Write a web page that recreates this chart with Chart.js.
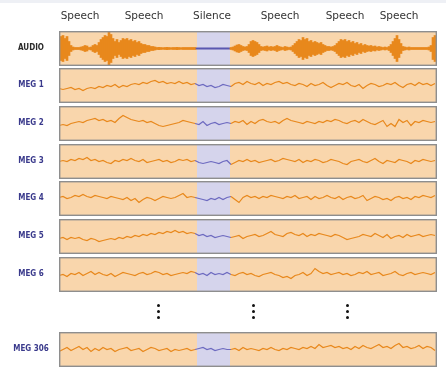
<!DOCTYPE html>
<html lang="en">

<head>
    <meta charset="UTF-8">
    <title>Audio and MEG traces</title>
    <style>
        body {
            margin: 0;
            background: #ffffff;
            width: 446px;
            height: 372px;
            position: relative;
            overflow: hidden;
            font-family: 'DejaVu Sans', sans-serif;
        }

        .topband {
            position: absolute;
            left: 0;
            top: 0;
            width: 446px;
            height: 3px;
            background: #eef0f5;
        }

        canvas {
            position: absolute;
            left: 59px;
        }

        .row-label {
            position: absolute;
            left: 0;
            width: 62px;
            text-align: center;
            font-family: 'DejaVu Sans Condensed', 'DejaVu Sans', sans-serif;
            font-stretch: condensed;
            font-weight: bold;
            font-size: 8px;
            line-height: 10px;
            color: #3a3a8c;
        }

        .row-label.audio {
            color: #2a2a2a;
        }

        .vdots {
            position: absolute;
            top: 304px;
            width: 3px;
        }

        .vdots span {
            display: block;
            width: 3px;
            height: 3px;
            border-radius: 50%;
            background: #111;
            margin-bottom: 3px;
        }
    </style>
    <script src="https://cdn.jsdelivr.net/npm/chart.js"></script>
</head>

<body>
    <div class="topband"></div>

    <canvas id="audio" width="378" height="62" style="top:4px"></canvas>
    <canvas id="meg1" width="378" height="35" style="top:68px"></canvas>
    <canvas id="meg2" width="378" height="35" style="top:106px"></canvas>
    <canvas id="meg3" width="378" height="35" style="top:144px"></canvas>
    <canvas id="meg4" width="378" height="35" style="top:181px"></canvas>
    <canvas id="meg5" width="378" height="35" style="top:219px"></canvas>
    <canvas id="meg6" width="378" height="35" style="top:257px"></canvas>
    <canvas id="meg306" width="378" height="35" style="top:332px"></canvas>

    <div class="row-label audio" style="top:43px">AUDIO</div>
    <div class="row-label" style="top:80px">MEG 1</div>
    <div class="row-label" style="top:118px">MEG 2</div>
    <div class="row-label" style="top:156px">MEG 3</div>
    <div class="row-label" style="top:193px">MEG 4</div>
    <div class="row-label" style="top:231px">MEG 5</div>
    <div class="row-label" style="top:269px">MEG 6</div>
    <div class="row-label" style="top:344px">MEG 306</div>

    <div class="vdots" style="left:157px"><span></span><span></span><span></span></div>
    <div class="vdots" style="left:252px"><span></span><span></span><span></span></div>
    <div class="vdots" style="left:346px"><span></span><span></span><span></span></div>

    <script>
        // time axis in ms
        const duration = 3780;
        const silenceStart = 1380;
        const silenceEnd = 1710;
        const audioStep = 20;
        const megStep = 40;

        const segmentLabels = ['Speech', 'Speech', 'Silence', 'Speech', 'Speech', 'Speech'];
        const segmentCenters = [210, 850, 1530, 2210, 2860, 3400];

        // audio envelope (half amplitude)
        const audioAmp = [
            8, 12, 13, 10, 12, 7, 3, 1.5, 1, 1,
            1, 1.5, 2, 3, 2.5, 1, 1.5, 3, 4, 3,
            6, 9, 11, 13, 12, 17, 14, 10, 7, 9,
            6, 8, 10, 9, 10, 8, 9, 7, 8, 6,
            7, 5, 4, 4, 3, 3, 2, 2, 1.5, 1,
            1.2, 1, 0.8, 1, 1.2, 1, 0.8, 1, 1, 1.2,
            1, 0.8, 1, 1, 1, 1, 1, 1, 1, 0.6,
            0.6, 0.6, 0.6, 0.6, 0.6, 0.6, 0.6, 0.6, 0.6, 0.6,
            0.6, 0.6, 0.6, 0.6, 0.6, 0.6, 1, 1.5, 2.5, 3.5,
            4, 3, 2, 1.5, 2, 4, 7, 8, 7, 6,
            4, 2, 1.5, 2, 2.5, 1.5, 2, 1.5, 2, 3,
            2, 1.5, 1, 2, 1.5, 1, 1.5, 3, 5, 7,
            9, 8, 11, 9, 10, 7, 8, 6, 7, 6,
            5, 6, 4, 3, 2, 2, 1.5, 2, 3, 5,
            7, 9, 8, 9, 7, 8, 6, 7, 5, 6,
            4, 5, 3, 4, 3, 2.5, 3, 2, 2.5, 1.5,
            2, 1.5, 1, 1.5, 1, 2, 4, 7, 10, 13,
            9, 5, 2, 1.5, 1, 1.5, 1, 1, 1, 1,
            1, 1, 1, 1, 1, 1.5, 3, 11, 13
        ];

        const meg1 = [
            -3, -4, -3, -2, -4, -3, -5, -3, -2, -3,
            -1, -2, 0, -1, 1, -2, 0, -1, 1, 2,
            1, 3, 2, 4, 5, 3, 4, 2, 3, 2,
            4, 2, 3, 1, 2,
            0, 1, -1, 0, -2, -1, 1, 0,
            -1, 2, 3, 1, 4, 2, 1, 3, 0, 2,
            1, 3, 4, 2, 3, 1, 0, 2, 1, -1,
            2, 0, 1, 3, 0, -2, 0, 2, 1, 3,
            0, -1, 1, -3, 0, 2, 1, -1, 0, 2,
            1, 3, 0, -2, 1, 2, 0, 3, 1, 2, 0, 2
        ];
        const meg2 = [
            -2, -1, -2, 0, 1, 2, 1, 3, 4, 5,
            3, 4, 2, 3, 1, 5, 8, 6, 4, 3,
            2, 3, 1, 2, 0, -2, -3, -2, -1, 0,
            1, 3, 2, 1, 0,
            -1, 2, -2, 0, 1, -1, 0, 1,
            0, 2, 1, 3, -1, 2, 0, 3, 4, 2,
            1, 2, 0, 3, 5, 3, 2, 1, 0, 2,
            1, 0, 2, 1, 3, 2, 4, 3, 1, 0,
            2, 3, 1, 4, 2, 0, -1, 1, 3, -3,
            0, -3, 4, 1, 3, -2, 2, 1, 3, 2, 1, 2
        ];
        const meg3 = [
            0, 1, 0, 2, 1, 3, 2, 4, 1, 2,
            0, 1, -1, -2, 1, 0, 2, 1, 3, 1,
            0, 2, -1, 0, 1, 2, 0, 1, -1, 0,
            2, 1, 2, 0, 1,
            -1, -2, -1, 0, -1, -2, 0, 1,
            -3, -1, 1, 0, 2, 0, 1, -1, 0, 1,
            2, 0, 1, 3, 2, 1, 0, 2, -1, 1,
            0, 2, 1, -1, 0, 2, 1, 0, -2, -3,
            0, 1, 2, 0, -1, 1, 3, 0, -2, 1,
            0, -1, 2, 1, 0, -2, 1, 0, 2, 1, 0, 1
        ];
        const meg4 = [
            1, 2, 0, 1, 3, 2, 4, 2, 1, 3,
            2, 1, 0, 2, 1, 0, -1, 1, -2, 0,
            -4, -1, 1, 0, -2, 0, 2, 1, 0, 1,
            3, 5, 1, 2, 1,
            0, -1, -2, 0, -1, 1, -1, 1,
            2, -1, -4, 1, 3, 1, 2, 0, 2, 1,
            3, 2, 1, 0, 2, 1, 3, 0, 1, 2,
            -1, 2, 0, 1, 3, 1, 0, 2, -1, 1,
            2, 0, 1, 3, -2, 0, 2, 1, -1, 0,
            -2, 1, 2, 0, 1, -1, 2, 1, 3, 2, 1, 3
        ];
        const meg5 = [
            -2, -1, -3, -1, -2, -1, -3, -4, -2, -3,
            -5, -4, -3, -2, -3, -1, -2, 0, -1, 1,
            0, 2, 1, 3, 2, 4, 3, 5, 4, 6,
            4, 5, 3, 4, 3,
            1, 2, 0, 1, -1, 0, 1, 0,
            -1, 0, 1, -2, 0, 1, 2, 0, 1, 3,
            5, 2, 1, 0, 3, 4, 2, 1, 3, 0,
            2, 1, 3, 2, 1, 0, 2, 1, -1, -3,
            -2, -1, 0, 2, 1, 0, 3, 1, -1, 2,
            -2, 0, 1, -1, 2, 0, 1, 2, 0, 1, 2, 1
        ];
        const meg6 = [
            -1, 0, -2, 1, 0, 2, -1, 1, 3, 0,
            2, 0, -1, 1, -2, 0, 2, 1, 0, -1,
            1, 2, 0, 1, 3, 2, 0, 1, -1, 0,
            1, 2, 1, 3, 2,
            0, 1, -1, 2, 0, 1, 0, 2,
            0, -1, 1, 2, 0, 1, -1, -2, 0, 1,
            2, 0, -1, -3, -2, -4, -1, 0, 2, -1,
            1, 6, 3, 1, 2, 0, 1, 2, 0, 1,
            -1, 0, 2, 1, 3, 0, 1, 2, -1, 0,
            1, 3, 0, -1, 1, 2, 0, 1, 2, 1, 0, 2
        ];
        const meg306 = [
            -2, 0, 2, -1, 1, 3, 0, 2, -2, 1,
            -1, 2, 0, 1, -2, 0, 1, 2, -1, 0,
            1, -2, 0, 2, 1, -1, 0, 1, -2, 0,
            -1, 0, 1, -1, 0,
            1, 2, 0, 1, -1, 0, 1, 0,
            0, 1, -1, 2, 0, 1, 0, -1, 1, 0,
            2, 0, -1, 1, 0, 2, 1, 0, 2, 1,
            3, 1, 5, 2, 3, 4, 2, 3, 1, 2,
            0, 3, 1, 4, 2, 1, 3, 5, 2, 3,
            1, 4, 6, 2, 3, 1, 2, 4, 1, 3, 2, -1
        ];

        const orange = '#e8881c';
        const purple = '#6d6ac0';
        const panelBg = '#f9d6ac';
        const silenceBg = '#d5d4ec';

        function inSilence(t) {
            return t >= silenceStart && t <= silenceEnd;
        }

        // background, silence band and frame of each panel
        const panelPlugin = {
            id: 'panel',
            beforeDraw(chart) {
                const { ctx, chartArea: a, scales: { x } } = chart;
                ctx.save();
                ctx.fillStyle = panelBg;
                ctx.fillRect(a.left, a.top, a.width, a.height);
                const s = x.getPixelForValue(silenceStart);
                const e = x.getPixelForValue(silenceEnd);
                ctx.fillStyle = silenceBg;
                ctx.fillRect(s, a.top, e - s, a.height);
                ctx.restore();
            },
            afterDraw(chart) {
                const { ctx, chartArea: a, scales: { x } } = chart;
                ctx.save();
                ctx.strokeStyle = '#8e8e8e';
                ctx.lineWidth = 1.4;
                ctx.strokeRect(a.left + 0.7, a.top + 0.7, a.width - 1.4, a.height - 1.4);
                if (chart.canvas.id === 'audio') {
                    ctx.fillStyle = '#333';
                    ctx.font = '10.5px "DejaVu Sans"';
                    ctx.textAlign = 'center';
                    ctx.textBaseline = 'middle';
                    segmentLabels.forEach((lab, i) => {
                        ctx.fillText(lab, x.getPixelForValue(segmentCenters[i]), 12);
                    });
                }
                ctx.restore();
            }
        };

        function baseOptions(padTop) {
            return {
                responsive: false,
                animation: false,
                events: [],
                layout: { padding: { top: padTop, left: 0, right: 0, bottom: 0 } },
                plugins: { legend: { display: false }, tooltip: { enabled: false } },
                scales: {
                    x: { type: 'linear', display: false, min: 0, max: duration, offset: false },
                    y: { display: false, min: -17.5, max: 17.5 }
                }
            };
        }

        // audio waveform as floating bars
        new Chart(document.getElementById('audio'), {
            type: 'bar',
            data: {
                datasets: [{
                    data: audioAmp.map((a, i) => ({ x: i * audioStep, y: [-a, a] })),
                    backgroundColor: ctx => inSilence(ctx.raw ? ctx.raw.x : 0) ? '#5a58b0' : orange,
                    barPercentage: 1,
                    categoryPercentage: 1,
                    borderWidth: 0
                }]
            },
            options: baseOptions(27),
            plugins: [panelPlugin]
        });

        function megChart(id, values) {
            new Chart(document.getElementById(id), {
                type: 'line',
                data: {
                    datasets: [{
                        data: values.map((v, i) => ({ x: i * megStep, y: v })),
                        borderColor: orange,
                        borderWidth: 1.2,
                        pointRadius: 0,
                        tension: 0,
                        segment: {
                            borderColor: ctx => inSilence((ctx.p0.parsed.x + ctx.p1.parsed.x) / 2) ? purple : orange
                        }
                    }]
                },
                options: baseOptions(0),
                plugins: [panelPlugin]
            });
        }

        megChart('meg1', meg1);
        megChart('meg2', meg2);
        megChart('meg3', meg3);
        megChart('meg4', meg4);
        megChart('meg5', meg5);
        megChart('meg6', meg6);
        megChart('meg306', meg306);
    </script>
</body>

</html>
